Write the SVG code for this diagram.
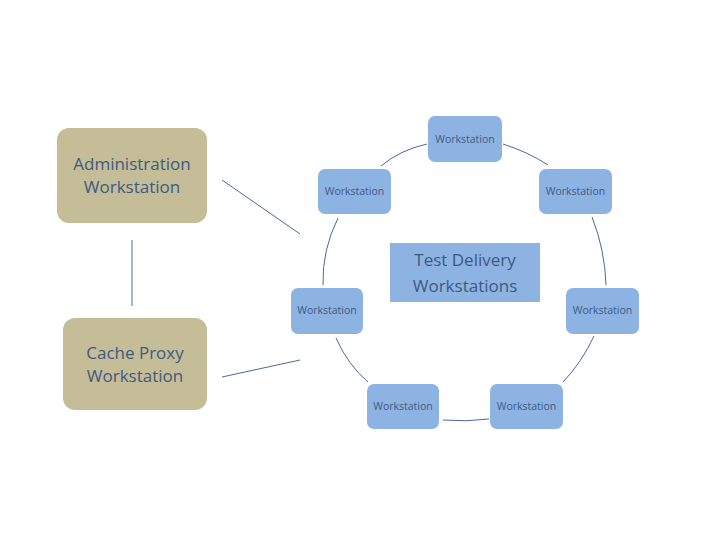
<svg xmlns="http://www.w3.org/2000/svg" width="720" height="540" viewBox="0 0 720 540">
<style>
.ws{fill:#8db3e2}
.tan{fill:#c4bd97}
.t{font-family:"Open Sans","Liberation Sans",sans-serif;fill:#3e5a82;text-anchor:middle}
.s{font-size:10.5px}
.l{font-size:17px}
#connectors path{fill:none;stroke:#4a6a98;stroke-width:1}
</style>
<rect width="720" height="540" fill="#fff"/>
<g id="connectors">
<path d="M222,180 L300,234"/>
<path d="M132,240 L132,306"/>
<path d="M222,377 L300,360"/>
<path d="M427,144 Q400,150 381,166"/>
<path d="M503,144 Q528,152 548,165"/>
<path d="M338,218 Q322,250 323,285"/>
<path d="M592,217 Q605,250 606,285"/>
<path d="M336,338 Q348,365 368,382"/>
<path d="M594,336 Q582,362 563,382"/>
<path d="M443,420 Q466,422 489,419"/>
</g>
<g id="admin"><rect class="tan" x="57" y="128" width="150" height="95" rx="12"/><text class="t l" x="132" y="170">Administration</text><text class="t l" x="132" y="193">Workstation</text></g>
<g id="cache"><rect class="tan" x="63" y="318" width="144" height="92" rx="12"/><text class="t l" x="135" y="359">Cache Proxy</text><text class="t l" x="135" y="382">Workstation</text></g>
<g id="center"><rect class="ws" x="390" y="243" width="150" height="59"/><text class="t l" x="465" y="266">Test Delivery</text><text class="t l" x="465" y="292">Workstations</text></g>
<g id="ws-top"><rect class="ws" x="428" y="116" width="74" height="46" rx="7"/><text class="t s" x="465" y="143">Workstation</text></g>
<g id="ws-ul"><rect class="ws" x="318" y="169" width="73" height="45" rx="7"/><text class="t s" x="354.5" y="195">Workstation</text></g>
<g id="ws-ur"><rect class="ws" x="539" y="169" width="73" height="45" rx="7"/><text class="t s" x="575.5" y="195">Workstation</text></g>
<g id="ws-ml"><rect class="ws" x="291" y="288" width="72" height="46" rx="7"/><text class="t s" x="327" y="314">Workstation</text></g>
<g id="ws-mr"><rect class="ws" x="566" y="288" width="73" height="46" rx="7"/><text class="t s" x="602.5" y="314">Workstation</text></g>
<g id="ws-bl"><rect class="ws" x="367" y="384" width="72" height="45" rx="7"/><text class="t s" x="403" y="410">Workstation</text></g>
<g id="ws-br"><rect class="ws" x="490" y="384" width="73" height="45" rx="7"/><text class="t s" x="526.5" y="410">Workstation</text></g>
</svg>
